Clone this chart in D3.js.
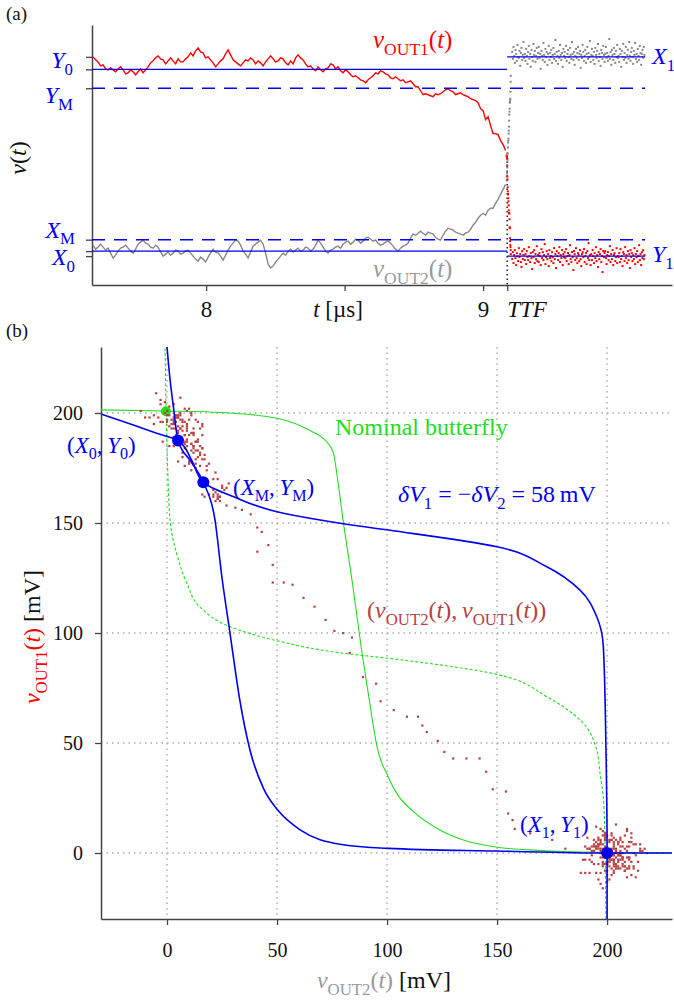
<!DOCTYPE html>
<html>
<head>
<meta charset="utf-8">
<script src="https://cdn.jsdelivr.net/npm/d3@7"></script>
<style>
  body { margin: 0; background: #fff; }
</style>
</head>
<body>
<svg id="chart" width="674" height="1000"></svg>
<script>
// ---- data ----
// levels (mV)
const levelNames = ["X1", "Y0", "YM", "XM", "X0", "Y1"];
const levelValues = [200, 187.5, 168.5, 16.5, 5, 0];
const TTF = 9.087; // us

// time trace before the flip, sampled every 9.025 ns from 7.592 us (mV)
const tPreStart = 7.592, tPreStep = 0.009025;
const v1Pre = [200, 197, 195, 191, 192, 188, 187, 189, 187, 185, 188, 190, 187, 183, 184, 187, 185, 182, 185, 188,
  184, 187, 190, 194, 196, 199, 201, 198, 197, 193, 196, 199, 196, 193, 198, 195, 195, 198, 200, 204,
  201, 206, 209, 205, 204, 199, 200, 197, 194, 190, 193, 196, 198, 203, 207, 202, 197, 195, 193, 191,
  194, 197, 196, 199, 197, 193, 196, 194, 191, 195, 198, 201, 198, 195, 196, 199, 198, 194, 192, 196,
  193, 199, 202, 199, 197, 193, 190, 191, 188, 186, 190, 187, 185, 188, 189, 193, 192, 188, 190, 186,
  184, 187, 185, 182, 180, 181, 179, 177, 176, 174, 177, 179, 181, 184, 183, 186, 185, 183, 182, 179,
  178, 180, 178, 176, 177, 174, 175, 176, 173, 170, 170, 166, 162, 163, 162, 161, 160, 163, 162, 163,
  165, 167, 168, 166, 165, 162, 163, 164, 162, 161, 160, 158, 157,
  156, 154, 148, 146, 137, 140, 131, 123, 123, 122, 116, 112, 106];
const v2Pre = [11, 7, 9, 12, 9, 6, 8, 3, -2, 1, 5, 8, 9, 11, 8, 5, 3, 7, 12, 14,
  16, 13, 12, 9, 8, 11, 9, 4, 0, 2, 4, 1, 3, 6, 5, 2, 3, 5, 6, 3,
  0, -3, -5, -1, -3, -6, -1, 3, 7, 4, 3, 0, -4, 1, 6, 10, 13, 16, 15, 11,
  5, 2, -2, 4, 10, 12, 14, 16, 12, 3, -8, -12, -10, -6, -3, 0, 3, 1, 5, 7,
  4, 6, 8, 5, 6, 9, 8, 5, 7, 11, 16, 13, 9, 5, 3, 6, 7, 9, 10, 8,
  12, 14, 15, 12, 14, 17, 16, 13, 15, 18, 19, 17, 15, 16, 13, 11, 12, 14, 15, 13,
  10, 7, 5, 8, 10, 11, 13, 18, 22, 21, 23, 25, 23, 21, 24, 23, 22, 19, 17, 16,
  21, 25, 28, 27, 26, 24, 23, 22, 21, 23, 24, 27, 31,
  34, 38, 41, 43, 41, 46, 48, 48, 53, 57, 62, 67, 72];

// fast transition samples
const tTrans = [9.0850, 9.0856, 9.0862, 9.0868, 9.0874, 9.0880, 9.0886, 9.0892, 9.0898, 9.0904,
  9.0910, 9.0916, 9.0922, 9.0928, 9.0934, 9.0940, 9.0946, 9.0952, 9.0958, 9.0964,
  9.0970, 9.0976, 9.0982, 9.0988, 9.0994, 9.1000];
const v2Trans = [76, 80, 84, 83, 89, 95, 97, 103, 109, 114, 116, 118, 123, 126, 130, 136, 142, 145, 148, 154, 155, 157, 158, 165, 175, 181];
const v1Trans = [101, 100, 98, 91, 80, 77, 69, 65, 62, 62, 58, 55, 51, 46, 43, 43, 43, 37, 29, 28, 18, 15, 11, 9, 6, 2];

// samples after the flip, every 2.4 ns from 9.105 us
const tPostStart = 9.105, tPostStep = 0.0024;
const v2Post = [205, 198, 210, 201, 194, 207, 203, 196, 212, 200, 199, 206, 191, 204, 209, 197, 202, 215, 199, 203,
  196, 208, 201, 193, 205, 211, 198, 203, 190, 207, 200, 196, 213, 202, 206, 195, 201, 209, 198, 204,
  210, 199, 203, 188, 206, 201, 197, 214, 202, 195, 208, 200, 205, 192, 203, 211, 197, 204, 200, 207,
  194, 202, 209, 198, 203, 217, 196, 205, 201, 193, 206, 199, 212, 202, 197, 204, 190, 208, 201, 205,
  199, 211, 196, 203, 207, 200, 194, 209, 202, 198, 215, 203, 197, 205, 192, 201, 208, 199, 204, 210,
  197, 203, 206, 189, 202, 199, 212, 205, 196, 201, 207, 194, 203, 210, 198, 204, 200, 216, 195, 202,
  208, 201, 197, 205, 193, 209, 202, 199, 206, 213, 196, 203, 200, 191, 207, 204, 198, 211, 202, 195,
  203, 210, 199, 204, 196, 201, 218, 198, 205, 192, 207, 202, 197, 209, 203, 194, 206, 200, 212, 199,
  201, 195, 208, 203, 190, 206, 200, 213, 197, 204, 199, 210, 194, 202, 207, 198, 215, 201, 196, 205,
  209, 200, 193, 206, 202, 214, 198, 203, 195, 208, 201, 197, 211, 204, 192, 203, 207, 199, 210, 202];
const v1Post = [-3, 4, -7, 1, 6, -2, -9, 3, 0, -5, 8, -1, 2, -6, -11, 5, -3, 1, 7, -4,
  2, -8, 5, -1, -4, 9, 0, -6, 3, -2, -13, 4, -1, 6, -7, 2, -3, 10, -5, 1,
  -6, 3, 0, -9, 7, -2, 4, -4, 1, 12, -8, -1, 5, -3, 2, -10, 6, -2, 0, -5,
  4, -1, -7, 8, -3, 2, -12, 5, 0, -4, 3, 9, -6, 1, -2, 6, -9, 2, -1, 4,
  -2, 7, -5, 0, 3, -8, 1, 11, -3, -6, 4, -1, -14, 5, 2, -4, 8, -2, -7, 3,
  1, -5, 6, -3, -10, 2, 4, -1, 7, -6, 0, 3, -8, 5, -2, 13, -4, 1, -9, 2,
  -4, 6, 0, -7, 3, -2, 9, -5, 1, -11, 4, -3, 2, 7, -6, 0, -16, 5, -1, 3,
  5, -2, -8, 1, 4, -4, 0, 10, -6, 2, -3, 6, -9, 1, 3, -5, -1, 8, -7, 0,
  -1, 3, -6, 7, -3, 0, -10, 4, 2, -5, 9, -2, 1, -7, 5, -4, 2, -12, 6, -1,
  3, -5, 1, -3, 8, -8, 2, -1, 5, -6, 0, 11, -4, 2, -9, 4, -2, 6, -3, 1];

// nominal butterfly (green)
const nomSolidV2 = [-30, 0, 25, 50, 65, 72, 75.6, 77.5, 80, 84.5, 88.6, 92, 95.5, 100.5, 104.4, 112, 124, 134.7, 150, 165, 180, 229.5];
const nomSolidV1 = [201.4, 200.9, 200.2, 197.6, 192, 187.5, 182, 170, 151.4, 121, 91, 69, 48, 34.7, 27.1, 18.8, 10.5, 5.9, 2.6, 1.4, 0.7, 0];
const nomDashV1 = [-30, 0, 21, 36.2, 46.8, 60.5, 71, 81.2, 88.5, 91, 96.5, 102.9, 111.8, 122.7, 136, 151, 175, 201, 230];
const nomDashV2 = [199.5, 199.1, 198.6, 196.8, 195.3, 187.7, 172.6, 149.9, 100.6, 78.6, 49.9, 28.6, 15, 9, 4.4, 1.4, 0.3, -0.4, -0.9];
// shifted butterfly (blue)
const blueAV1 = [-30, 0, 46.8, 93.8, 107.4, 119.5, 130.1, 139.2, 146.8, 149.9, 154.4, 162, 168.5, 178.6, 187.5, 190.8, 194.5, 199.4];
const blueAV2 = [200, 200, 199.5, 198.3, 195.3, 187.7, 172.6, 149.9, 100.6, 78.6, 52.9, 30.1, 16.5, 11.2, 5, -4.7, -15.3, -29.7];
const blueBV2 = [0, 1.4, 2.7, 5, 10.8, 16.5, 21.8, 25, 28.6, 33, 37.7, 44, 50.3, 60.5, 78.6, 100.6, 149.9, 200, 229.5];
const blueBV1 = [230, 215, 204.5, 187.5, 178, 168.5, 151.4, 125, 100.1, 70, 46.8, 29, 19.5, 10.5, 4, 2.1, 0.9, 0, 0];
const nominalPoint = [-0.5, 200.8];

const ticksB = [0, 50, 100, 150, 200];

// ---- drawing ----
const font = "'Liberation Serif', 'Times New Roman', serif";
const BLUE = "#0000f0", RED = "#ff0000", GRAY = "#888888", GREEN = "#22dd22", BROWN = "#b84040";
const svg = d3.select("#chart").attr("font-family", font);

function rich(g, x, y, parts, opt) {
  const t = g.append("text").attr("x", x).attr("y", y)
    .attr("font-size", opt.size).attr("fill", opt.color || "#111")
    .attr("text-anchor", opt.anchor || "start");
  if (opt.rotate) t.attr("transform", "rotate(-90," + x + "," + y + ")");
  let shift = 0;
  parts.forEach(function (p) {
    const sub = p[1].indexOf("s") >= 0;
    const target = sub ? opt.size * 0.28 : 0;
    const ts = t.append("tspan").text(p[0])
      .attr("dy", target - shift)
      .attr("font-size", sub ? opt.size * 0.7 : opt.size)
      .attr("font-style", p[1].indexOf("i") >= 0 ? "italic" : "normal");
    if (p[2]) ts.attr("fill", p[2]);
    shift = target;
  });
  return t;
}

function styleAxis(g, fs) {
  g.attr("font-family", font).attr("font-size", fs);
  g.select(".domain").attr("stroke", "#444").attr("stroke-width", 1.5);
  g.selectAll(".tick line").attr("stroke", "#444").attr("stroke-width", 1.3);
  g.selectAll(".tick text").attr("fill", "#111");
}

// ===== panel (a) =====
const xA = d3.scaleLinear().domain([7.588, 9.682]).range([92, 672]);
const yA = d3.scaleLinear().domain([-29, 232]).range([285, 25]);
const gA = svg.append("g");

gA.append("g").attr("transform", "translate(0,285)")
  .call(d3.axisBottom(xA).tickValues([8, 8.5, 9, TTF]).tickSize(6).tickSizeOuter(0).tickPadding(10)
    .tickFormat(function (d) { return d === 8 ? "8" : d === 9 ? "9" : ""; }))
  .call(styleAxis, 23);
gA.append("g").attr("transform", "translate(92,0)")
  .call(d3.axisLeft(yA).tickValues(levelValues).tickSize(6).tickSizeOuter(0).tickFormat(""))
  .call(styleAxis, 23);

const tPre = d3.range(v1Pre.length).map(function (i) { return tPreStart + i * tPreStep; });
const idxPre = d3.range(tPre.length);
gA.append("path")
  .attr("d", d3.line().x(function (i) { return xA(tPre[i]); }).y(function (i) { return yA(v2Pre[i]); })(idxPre))
  .attr("fill", "none").attr("stroke", GRAY).attr("stroke-width", 1.4);
gA.append("path")
  .attr("d", d3.line().x(function (i) { return xA(tPre[i]); }).y(function (i) { return yA(v1Pre[i]); })(idxPre))
  .attr("fill", "none").attr("stroke", RED).attr("stroke-width", 1.4);

// TTF marker
gA.append("line")
  .attr("x1", xA(TTF)).attr("x2", xA(TTF)).attr("y1", yA(104)).attr("y2", yA(-29))
  .attr("stroke", "#222").attr("stroke-width", 1.5).attr("stroke-dasharray", "1.5,3");

const tPost = d3.range(v2Post.length).map(function (i) { return tPostStart + i * tPostStep; });
function dotsA(ts, vs, color) {
  gA.append("g").selectAll("rect").data(d3.range(Math.min(ts.length, vs.length))).enter().append("rect")
    .attr("x", function (i) { return xA(ts[i]) - 1; })
    .attr("y", function (i) { return yA(vs[i]) - 1; })
    .attr("width", 2).attr("height", 2).attr("fill", color);
}
dotsA(tTrans, v2Trans, GRAY);
dotsA(tTrans, v1Trans, RED);
dotsA(tPost, v2Post, GRAY);
dotsA(tPost, v1Post, RED);

// level lines
const tEnd = 9.585;
function hline(t0, t1, v, dashed) {
  gA.append("line").attr("x1", xA(t0)).attr("x2", xA(t1)).attr("y1", yA(v)).attr("y2", yA(v))
    .attr("stroke", BLUE).attr("stroke-width", dashed ? 1.5 : 1.4)
    .attr("stroke-dasharray", dashed ? "13,9" : null);
}
hline(xA.domain()[0], TTF, levelValues[1], false);
hline(xA.domain()[0], TTF, levelValues[4], false);
hline(TTF, tEnd, levelValues[0], false);
hline(TTF, tEnd, levelValues[5], false);
hline(xA.domain()[0], tEnd, levelValues[2], true);
hline(xA.domain()[0], tEnd, levelValues[3], true);

// labels panel (a)
rich(gA, 73, yA(levelValues[1]) - 1, [["Y", "i"], ["0", "s"]], {size: 24, color: BLUE, anchor: "end"});
rich(gA, 73, yA(levelValues[2]) + 15, [["Y", "i"], ["M", "s"]], {size: 24, color: BLUE, anchor: "end"});
rich(gA, 75, yA(levelValues[3]) - 2, [["X", "i"], ["M", "s"]], {size: 24, color: BLUE, anchor: "end"});
rich(gA, 75, yA(levelValues[4]) + 14, [["X", "i"], ["0", "s"]], {size: 24, color: BLUE, anchor: "end"});
rich(gA, 652, yA(levelValues[0]) + 7, [["X", "i"], ["1", "s"]], {size: 24, color: BLUE});
rich(gA, 652, yA(levelValues[5]) + 6, [["Y", "i"], ["1", "s"]], {size: 24, color: BLUE});
rich(gA, 373, 48, [["v", "i"], ["OUT1", "s"], ["(", "r"], ["t", "i"], [")", "r"]], {size: 25, color: RED});
rich(gA, 373, 277, [["v", "i"], ["OUT2", "s"], ["(", "r"], ["t", "i"], [")", "r"]], {size: 25, color: "#999"});
rich(gA, 26, 158, [["v", "i"], ["(", "r"], ["t", "i"], [")", "r"]], {size: 24, anchor: "middle", rotate: true});
rich(gA, 338, 317, [["t", "i"], [" [\u00b5s]", "r"]], {size: 23, anchor: "middle"});
rich(gA, xA(TTF), 317, [["TTF", "i"]], {size: 23});
gA.append("text").attr("x", 6).attr("y", 20).attr("font-size", 19).attr("fill", "#111").text("(a)");

// ===== panel (b) =====
const xB = d3.scaleLinear().domain([-30, 229.5]).range([101, 672]);
const yB = d3.scaleLinear().domain([-30, 230]).range([919, 347]);
const gB = svg.append("g");

svg.append("clipPath").attr("id", "clipB").append("rect")
  .attr("x", 101).attr("y", 347).attr("width", 571).attr("height", 572);

// grid
gB.append("g").selectAll("line").data(ticksB).enter().append("line")
  .attr("x1", function (d) { return xB(d); }).attr("x2", function (d) { return xB(d); })
  .attr("y1", 347).attr("y2", 919)
  .attr("stroke", "#aaa").attr("stroke-width", 1.4).attr("stroke-dasharray", "1.5,4");
gB.append("g").selectAll("line").data(ticksB).enter().append("line")
  .attr("y1", function (d) { return yB(d); }).attr("y2", function (d) { return yB(d); })
  .attr("x1", 101).attr("x2", 672)
  .attr("stroke", "#aaa").attr("stroke-width", 1.4).attr("stroke-dasharray", "1.5,4");

gB.append("g").attr("transform", "translate(0,919)")
  .call(d3.axisBottom(xB).tickValues(ticksB).tickSize(6).tickSizeOuter(0).tickPadding(18))
  .call(styleAxis, 20);
gB.append("g").attr("transform", "translate(101,0)")
  .call(d3.axisLeft(yB).tickValues(ticksB).tickSize(6).tickSizeOuter(0).tickPadding(12))
  .call(styleAxis, 20);

const plotB = gB.append("g").attr("clip-path", "url(#clipB)");

function curve(xs, ys, byY, color, width, dash) {
  const line = d3.line()
    .x(function (i) { return xB(xs[i]); })
    .y(function (i) { return yB(ys[i]); })
    .curve(byY ? d3.curveMonotoneY : d3.curveMonotoneX);
  plotB.append("path").attr("d", line(d3.range(xs.length)))
    .attr("fill", "none").attr("stroke", color).attr("stroke-width", width)
    .attr("stroke-dasharray", dash || null);
}
curve(nomSolidV2, nomSolidV1, false, GREEN, 1.1);
curve(nomDashV2, nomDashV1, true, GREEN, 1.1, "3,2");

plotB.append("circle").attr("cx", xB(nominalPoint[0])).attr("cy", yB(nominalPoint[1]))
  .attr("r", 5).attr("fill", GREEN);

// (vOUT2, vOUT1) samples
const v2All = v2Pre.concat(v2Trans, v2Post);
const v1All = v1Pre.concat(v1Trans, v1Post);
plotB.append("g").selectAll("rect").data(d3.range(Math.min(v2All.length, v1All.length))).enter().append("rect")
  .attr("x", function (i) { return xB(v2All[i]) - 1; })
  .attr("y", function (i) { return yB(v1All[i]) - 1; })
  .attr("width", 2.2).attr("height", 2.2).attr("fill", BROWN);

curve(blueAV2, blueAV1, true, BLUE, 1.6);
curve(blueBV2, blueBV1, false, BLUE, 1.6);

const pointsX = [levelValues[4], levelValues[3], levelValues[0]];
const pointsY = [levelValues[1], levelValues[2], levelValues[5]];
plotB.append("g").selectAll("circle").data(d3.range(3)).enter().append("circle")
  .attr("cx", function (i) { return xB(pointsX[i]); })
  .attr("cy", function (i) { return yB(pointsY[i]); })
  .attr("r", 6).attr("fill", BLUE);

// labels panel (b)
const th = "\u2009";
rich(gB, 67, 453, [["(", "r"], ["X", "i"], ["0", "s"], ["," + th, "r"], ["Y", "i"], ["0", "s"], [")", "r"]], {size: 23, color: BLUE});
rich(gB, 233, 495, [["(", "r"], ["X", "i"], ["M", "s"], ["," + th, "r"], ["Y", "i"], ["M", "s"], [")", "r"]], {size: 23, color: BLUE});
rich(gB, 520, 832, [["(", "r"], ["X", "i"], ["1", "s"], ["," + th, "r"], ["Y", "i"], ["1", "s"], [")", "r"]], {size: 23, color: BLUE});
gB.append("text").attr("x", 335).attr("y", 435).attr("font-size", 24).attr("fill", GREEN).text("Nominal butterfly");
rich(gB, 398, 502, [["\u03b4V", "i"], ["1", "s"], [" = \u2212", "r"], ["\u03b4V", "i"], ["2", "s"], [" = 58" + th + "mV", "r"]], {size: 24, color: BLUE});
rich(gB, 367, 618, [["(", "r"], ["v", "i"], ["OUT2", "s"], ["(", "r"], ["t", "i"], [")," + th, "r"],
  ["v", "i"], ["OUT1", "s"], ["(", "r"], ["t", "i"], ["))", "r"]], {size: 24, color: BROWN});
rich(gB, 40, 637, [["v", "i", RED], ["OUT1", "s", RED], ["(", "r", RED], ["t", "i", RED], [")", "r", RED], [" [mV]", "r"]],
  {size: 24, anchor: "middle", rotate: true});
rich(gB, 384, 988, [["v", "i", "#999"], ["OUT2", "s", "#999"], ["(", "r", "#999"], ["t", "i", "#999"], [")", "r", "#999"], [" [mV]", "r"]],
  {size: 24, anchor: "middle"});
gB.append("text").attr("x", 6).attr("y", 337).attr("font-size", 19).attr("fill", "#111").text("(b)");
</script>
</body>
</html>
